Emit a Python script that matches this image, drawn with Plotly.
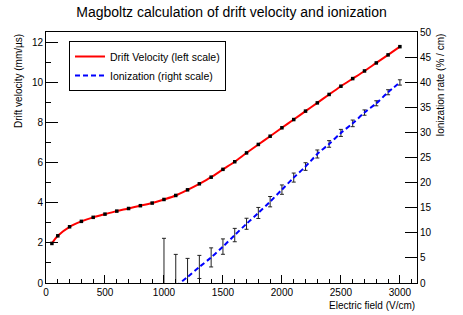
import plotly.graph_objects as go

# ---- data ----
efield = [50, 100, 200, 300, 400, 500, 600, 700, 800, 900, 1000, 1100, 1200, 1300, 1400,
          1500, 1600, 1700, 1800, 1900, 2000, 2100, 2200, 2300, 2400, 2500, 2600, 2700,
          2800, 2900, 3000]
drift_velocity = [1.97, 2.35, 2.80, 3.07, 3.27, 3.43, 3.58, 3.71, 3.85, 3.98, 4.16, 4.36,
                  4.64, 4.94, 5.27, 5.66, 6.04, 6.48, 6.90, 7.31, 7.73, 8.14, 8.56, 8.97,
                  9.39, 9.80, 10.18, 10.56, 10.96, 11.36, 11.77]

efield_ion = [1000, 1100, 1200, 1300, 1400, 1500, 1600, 1700, 1800, 1900, 2000, 2100, 2200,
              2300, 2400, 2500, 2600, 2700, 2800, 2900, 3000]
ionization = [-2.8, -0.7, 1.2, 3.2, 5.1, 7.25, 9.55, 11.8, 13.95, 16.2, 18.6, 21.0, 23.2,
              25.7, 27.7, 29.9, 31.8, 33.95, 35.8, 38.0, 39.95]
ionization_err = [11.7, 6.4, 3.7, 2.3, 1.9, 1.53, 1.33, 1.1, 1.1, 1.03, 0.93, 0.9, 0.76,
                  0.8, 0.66, 0.7, 0.66, 0.53, 0.5, 0.5, 0.53]

x_ticks = [0, 500, 1000, 1500, 2000, 2500, 3000]
left_ticks = [0, 2, 4, 6, 8, 10, 12]
right_ticks = [0, 5, 10, 15, 20, 25, 30, 35, 40, 45, 50]

FONT = "Liberation Sans, Arial, Helvetica, sans-serif"

fig = go.Figure()

# drift velocity: smooth red line (legend) + black point markers
fig.add_trace(go.Scatter(
    x=efield, y=drift_velocity, mode="lines", name="Drift Velocity (left scale)",
    line=dict(color="#ff0000", width=2, shape="spline", smoothing=0.8),
    yaxis="y"))
fig.add_trace(go.Scatter(
    x=efield, y=drift_velocity, mode="markers", showlegend=False,
    marker=dict(color="black", size=3.5, symbol="square"), yaxis="y"))

# ionization: error bars + dashed blue line
fig.add_trace(go.Scatter(
    x=efield_ion, y=ionization, mode="markers", showlegend=False,
    marker=dict(size=0.1, color="rgba(0,0,0,0)"),
    error_y=dict(type="data", array=ionization_err, color="#222222", thickness=1, width=2),
    yaxis="y2", cliponaxis=True))
fig.add_trace(go.Scatter(
    x=efield_ion, y=ionization, mode="lines", name="Ionization (right scale)",
    line=dict(color="#0000ff", width=2, dash="5px,3px", shape="spline", smoothing=0.8),
    yaxis="y2"))

axis_common = dict(showgrid=False, zeroline=False, showline=True, linecolor="black",
                   linewidth=1, ticks="inside", tickcolor="black",
                   tickfont=dict(family=FONT, size=10, color="black"))

fig.update_layout(
    width=463, height=315,
    margin=dict(l=46, r=46, t=32, b=32),
    paper_bgcolor="white", plot_bgcolor="white",
    font=dict(family=FONT, size=10, color="black"),
    title=dict(text="Magboltz calculation of drift velocity and ionization",
               x=0.5, xanchor="center", y=1 - 12 / 315, yanchor="middle", yref="container",
               font=dict(family=FONT, size=14, color="black")),
    xaxis=dict(range=[0, 3145], tickvals=x_ticks, ticklen=8, mirror=True,
               minor=dict(dtick=100, tick0=0, ticklen=4, ticks="inside", tickcolor="black",
                          showgrid=False),
               **axis_common),
    yaxis=dict(range=[0, 12.5], tickvals=left_ticks, ticklen=12,
               minor=dict(dtick=1, tick0=0, ticklen=5, ticks="inside", tickcolor="black",
                          showgrid=False),
               **axis_common),
    yaxis2=dict(range=[0, 50], tickvals=right_ticks, ticklen=12, overlaying="y",
                side="right", **axis_common),
    legend=dict(x=(69 - 46) / 371, y=(283 - 41) / 251, xanchor="left", yanchor="top",
                bgcolor="white", bordercolor="black", borderwidth=1,
                font=dict(family=FONT, size=10.5, color="black")),
    showlegend=True,
)

annots = [
    dict(text="Drift velocity (mm/µs)", xref="paper", yref="paper",
         x=(18 - 46) / 371, y=1.0, xanchor="center", yanchor="top", textangle=-90),
    dict(text="Ionization rate (% / cm)", xref="paper", yref="paper",
         x=(440 - 46) / 371, y=1.0, xanchor="center", yanchor="top", textangle=-90),
    dict(text="Electric field (V/cm)", xref="paper", yref="paper",
         x=1.0, y=(283 - 305) / 251, xanchor="right", yanchor="middle"),
]
for a in annots:
    fig.add_annotation(showarrow=False, font=dict(family=FONT, size=10, color="black"), **a)

fig.write_html("out.html", config={"displayModeBar": False},
               post_script="document.body.style.margin='0';document.body.style.overflow='hidden';")
